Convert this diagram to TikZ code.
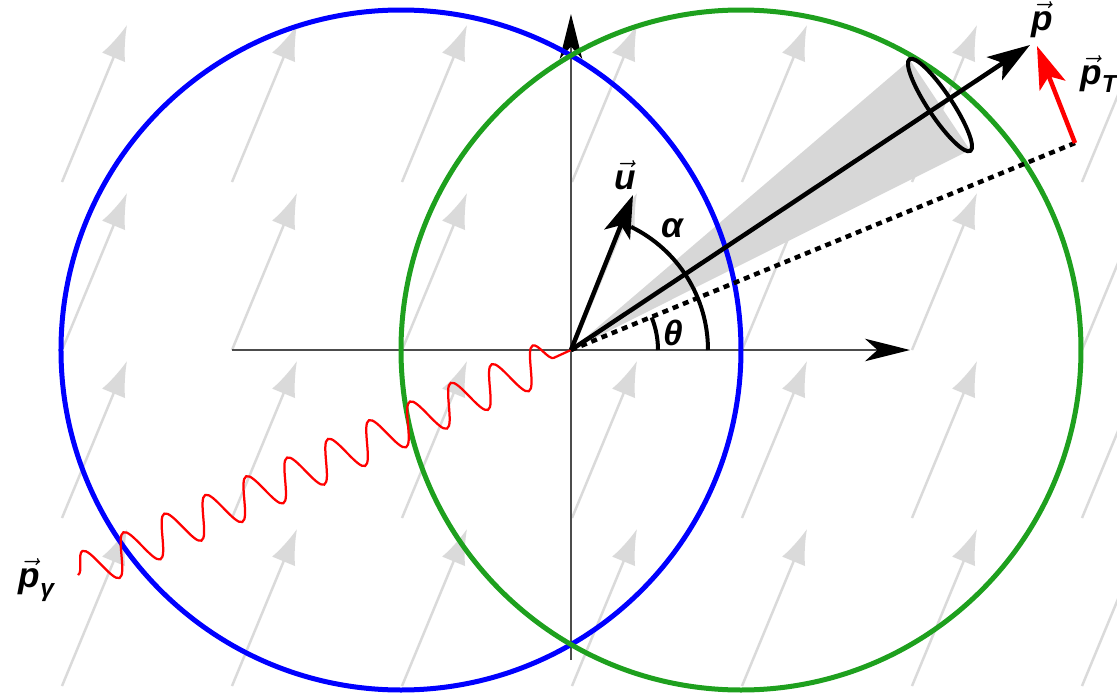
\documentclass[tikz,border=0pt]{standalone}
\usepackage{amsmath}
\usepackage{fontspec}
\setmainfont{Liberation Sans}
\usetikzlibrary{arrows.meta,decorations.pathmorphing}
\definecolor{fieldgray}{RGB}{218,218,218}
\definecolor{conegray}{RGB}{215,215,215}
\definecolor{ringgreen}{RGB}{30,160,30}
\tikzset{
  field/.style={draw=fieldgray, line width=0.05cm, -{Latex[length=0.7cm,width=0.5cm]}},
  axis/.style={draw=black!70, line width=0.025cm, -{Stealth[length=0.9cm,width=0.45cm,inset=0.25cm,black]}},
  vecarrow/.style={line width=0.09cm, -{Stealth[length=0.85cm,width=0.55cm,inset=0.2cm]}},
  ring/.style={line width=0.1cm},
  lbl/.style={font=\fontsize{20}{24}\selectfont\bfseries\itshape}
}
\newcommand{\bvec}[1]{$\vec{\textbf{\textit{#1}}}$}
\begin{document}
\begin{tikzpicture}[x=0.02cm, y=0.02cm]
\useasboundingbox (-571,-344) rectangle (546,350);
% background field
\foreach \i in {0,...,6}
  \foreach \j in {0,...,3}
    \draw[field] (-509+170*\i,168-168*\j) -- ++(65,157);
% axes
\coordinate (O) at (0,0);
\coordinate (xl) at (-339,0);
\coordinate (xr) at (339,0);
\coordinate (yb) at (0,-310);
\coordinate (yt) at (0,336);
\draw[axis] (xl) -- (xr);
\draw[axis] (yb) -- (yt);
% cone
\fill[conegray] (O) -- (339,290) -- (399,200) -- cycle;
% circles
\draw[ring, blue] (-170,0) circle[radius=340];
\draw[ring, ringgreen] (170,0) circle[radius=340];
% photon
\coordinate (G) at (-493,-225);
\draw[red, line width=0.045cm, decorate, decoration={snake, segment length=0.9cm, amplitude=0.4cm}] (G) -- (O);
% vectors
\coordinate (P) at (459,305);
\coordinate (Q) at (504,207);
\coordinate (U) at (62,155);
\coordinate (T) at (466,304);
\draw[line width=0.09cm, dash pattern=on 0.12cm off 0.1cm] (O) -- (Q);
\draw[line width=0.08cm] (369,245) ellipse[x radius=12, y radius=55, rotate=33.6];
\draw[vecarrow] (O) -- (P);
\draw[vecarrow] (O) -- (U);
\draw[vecarrow, red] (Q) -- (T);
% angles
\draw[line width=0.08cm] (137,0) arc[start angle=0, end angle=64, radius=137];
\draw[line width=0.08cm] (87,0) arc[start angle=0, end angle=22, radius=87];
% labels
\node[lbl] (lp) at (471,330) {\bvec{p}};
\node[lbl] (lpt) at (528,276) {$\vec{\textbf{\textit{p}}}_{\textbf{\textit{T}}}$};
\node[lbl] (lu) at (54,175) {\bvec{u}};
\node[lbl] (la) at (101,122) {α};
\node[lbl] (lt) at (102,17) {θ};
\node[lbl] (lg) at (-534,-230) {$\vec{\textbf{\textit{p}}}_{\textbf{\textit{γ}}}$};
\end{tikzpicture}
\end{document}
